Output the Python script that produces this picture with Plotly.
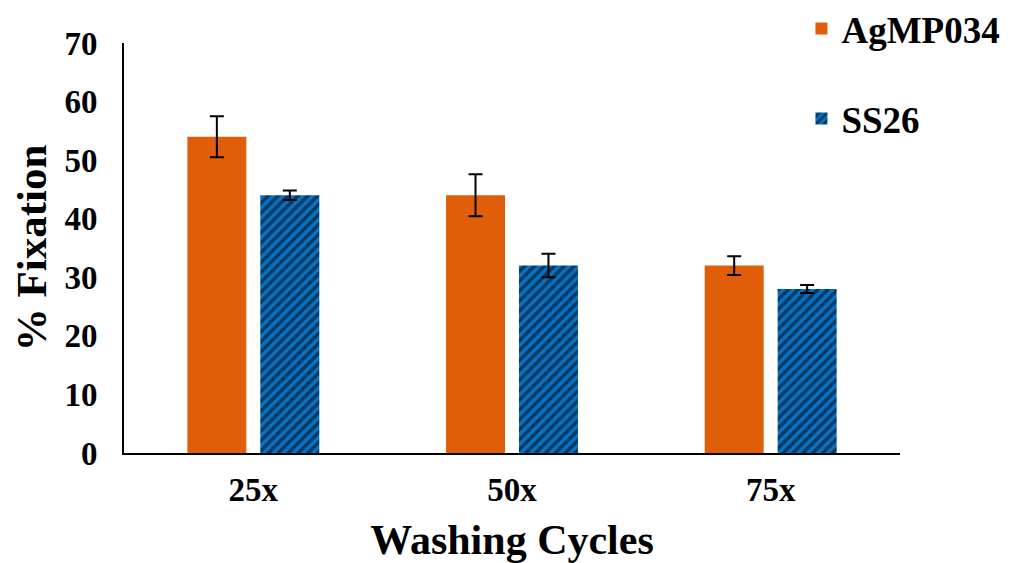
import plotly.graph_objects as go

categories = ["25x", "50x", "75x"]
agmp_values = [54, 44, 32]
agmp_errors = [3.5, 3.6, 1.6]
ss26_values = [44, 32, 28]
ss26_errors = [0.8, 2.0, 0.7]
y_ticks = [0, 10, 20, 30, 40, 50, 60, 70]

FONT = "Liberation Serif, Times New Roman, serif"

fig = go.Figure()
fig.add_trace(go.Bar(
    x=categories, y=agmp_values, name="<b>AgMP034</b>",
    marker=dict(color="#E05E0A", line=dict(width=0)),
    width=0.228, offset=-0.255,
    error_y=dict(type="data", array=agmp_errors, color="black", thickness=2, width=7),
    legendgroup="a",
))
fig.add_trace(go.Bar(
    x=categories, y=ss26_values, name="<b>SS26</b>",
    marker=dict(color="#0872C4", line=dict(width=0),
                pattern=dict(shape="/", fgcolor="black", bgcolor="#0872C4", size=7, solidity=0.5)),
    width=0.228, offset=0.027,
    error_y=dict(type="data", array=ss26_errors, color="black", thickness=2, width=7),
    legendgroup="b",
))

fig.update_layout(
    width=1007, height=555,
    margin=dict(l=116, r=115, t=35, b=110, autoexpand=False),
    paper_bgcolor="white", plot_bgcolor="white",
    font=dict(family=FONT, color="black"),
    barmode="group",
    legend=dict(x=0.873, xanchor="left", y=1.11, yanchor="top",
                font=dict(size=37, family=FONT, color="black"),
                tracegroupgap=39, traceorder="grouped", bgcolor="rgba(0,0,0,0)"),
    xaxis=dict(
        showline=True, linecolor="black", linewidth=2, showgrid=False,
        ticks="", ticklabelstandoff=6, automargin=False,
        tickfont=dict(size=33, family=FONT, color="black"),
        tickvals=categories, ticktext=["<b>%s</b>" % c for c in categories],
        title=dict(text="<b>Washing Cycles</b>", font=dict(size=42, family=FONT, color="black"), standoff=22),
    ),
    yaxis=dict(
        range=[0, 70], tickvals=y_ticks, ticktext=["<b>%d</b>" % v for v in y_ticks],
        showline=True, linecolor="black", linewidth=2, showgrid=False, zeroline=False,
        ticks="", ticklabelstandoff=18, automargin=False,
        tickfont=dict(size=33, family=FONT, color="black"),
        title=dict(text="<b>% Fixation</b>", font=dict(size=43, family=FONT, color="black"), standoff=5),
    ),
)

fig.write_html("out.html")
